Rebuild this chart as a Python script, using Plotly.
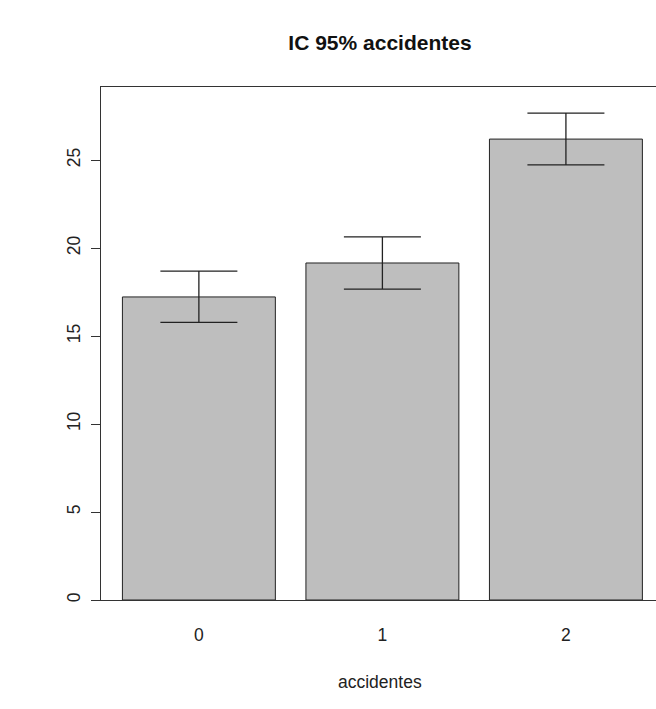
import plotly.graph_objects as go

categories = ["0", "1", "2"]
means = [17.22, 19.15, 26.19]
upper = [18.69, 20.63, 27.67]
lower = [15.78, 17.67, 24.72]
y_ticks = [0, 5, 10, 15, 20, 25]

# R barplot positions: width 1, space 0.2
xpos = [0.7 + 1.2 * i for i in range(len(categories))]

fig = go.Figure()
fig.add_trace(go.Bar(
    x=xpos, y=means, width=1,
    marker=dict(color="#BEBEBE", line=dict(color="#222222", width=1)),
    error_y=dict(
        type="data", symmetric=False,
        array=[u - m for u, m in zip(upper, means)],
        arrayminus=[m - l for m, l in zip(means, lower)],
        color="#222222", thickness=1.3, width=38.5,
    ),
    showlegend=False,
))

font = "Liberation Sans, Arial, sans-serif"
fig.update_layout(
    width=656, height=709,
    margin=dict(l=101, r=0, t=87, b=109),
    paper_bgcolor="white", plot_bgcolor="white",
    font=dict(family=font, size=17.5, color="#222222"),
    title=dict(text="<b>IC 95% accidentes</b>", x=380/656, xanchor="center",
               y=1 - 43/709, yanchor="middle", yref="container",
               font=dict(family=font, size=21, color="#111111")),
    xaxis=dict(range=[0.06, 3.689], tickvals=xpos, ticktext=categories,
               showgrid=False, zeroline=False, ticks="",
               showline=True, mirror=True, linecolor="#333333", linewidth=1,
               ticklabelstandoff=19, tickfont=dict(size=17.5)),
    yaxis=dict(range=[0, 29.15], tickvals=y_ticks, ticktext=[str(t) for t in y_ticks],
               showgrid=False, zeroline=False, ticks="outside", ticklen=9,
               tickcolor="#333333", tickangle=-90,
               showline=True, mirror=False, linecolor="#333333", linewidth=1,
               ticklabelstandoff=4, tickfont=dict(size=17.5)),
    annotations=[dict(text="accidentes", x=(380 - 101) / 555, y=(600 - 682) / 513,
                      xref="paper", yref="paper", showarrow=False,
                      xanchor="center", yanchor="middle",
                      font=dict(family=font, size=17.5, color="#222222"))],
)
fig.write_html("out.html", config={"displayModeBar": False},
               post_script="document.body.style.margin='0';")
